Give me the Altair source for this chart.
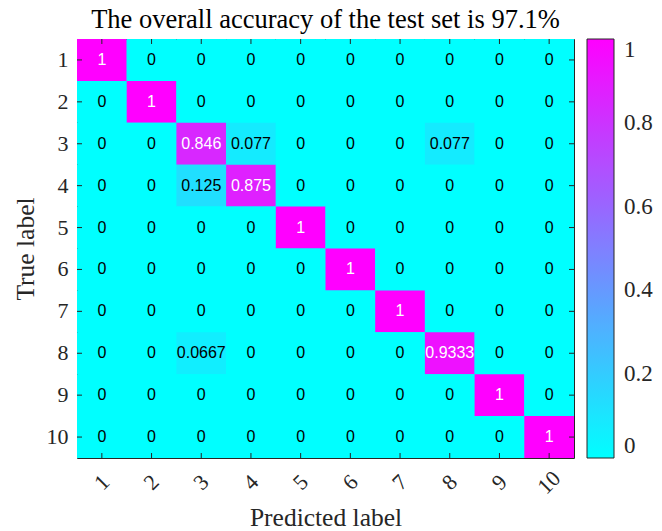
import altair as alt
import pandas as pd

# Class labels shared by both axes
classes = ["1", "2", "3", "4", "5", "6", "7", "8", "9", "10"]

# Row-normalised confusion matrix: rows = true label, columns = predicted label
row_1 = [1, 0, 0, 0, 0, 0, 0, 0, 0, 0]
row_2 = [0, 1, 0, 0, 0, 0, 0, 0, 0, 0]
row_3 = [0, 0, 0.846, 0.077, 0, 0, 0, 0.077, 0, 0]
row_4 = [0, 0, 0.125, 0.875, 0, 0, 0, 0, 0, 0]
row_5 = [0, 0, 0, 0, 1, 0, 0, 0, 0, 0]
row_6 = [0, 0, 0, 0, 0, 1, 0, 0, 0, 0]
row_7 = [0, 0, 0, 0, 0, 0, 1, 0, 0, 0]
row_8 = [0, 0, 0.0667, 0, 0, 0, 0, 0.9333, 0, 0]
row_9 = [0, 0, 0, 0, 0, 0, 0, 0, 1, 0]
row_10 = [0, 0, 0, 0, 0, 0, 0, 0, 0, 1]
matrix = [row_1, row_2, row_3, row_4, row_5, row_6, row_7, row_8, row_9, row_10]

accuracy = "97.1%"
colorbar_ticks = [0, 0.2, 0.4, 0.6, 0.8, 1]

records = []
for i, t in enumerate(classes):
    for j, p in enumerate(classes):
        records.append({"true": t, "pred": p, "value": matrix[i][j]})
df = pd.DataFrame(records)
ticks_df = pd.DataFrame({"label": classes})

W, H = 497, 419
SERIF = "Liberation Serif"
SANS = "Liberation Sans"
TICK = 5
CYAN, MAGENTA = "#00ffff", "#ff00ff"

band = alt.Scale(domain=classes, paddingInner=0, paddingOuter=0)
cool = alt.Scale(domain=[0, 1], range=[CYAN, MAGENTA], interpolate="rgb")
x_enc = alt.X("pred:O", scale=band, title="Predicted label")
y_enc = alt.Y("true:O", scale=band, title="True label")

cells = alt.Chart(df).mark_rect().encode(
    x=x_enc,
    y=y_enc,
    color=alt.Color(
        "value:Q",
        scale=cool,
        legend=alt.Legend(
            title=None,
            values=colorbar_ticks,
            format=".1~f",
            gradientLength=H,
            gradientThickness=27,
            gradientStrokeColor="#262626",
            gradientStrokeWidth=1,
            labelFont=SERIF,
            labelFontSize=23,
            labelColor="#262626",
            labelOffset=10,
            labelBaseline="middle",
            offset=13,
            padding=0,
        ),
    ),
)

labels = alt.Chart(df).mark_text(font=SANS, fontSize=16).encode(
    x=alt.X("pred:O", scale=band),
    y=alt.Y("true:O", scale=band),
    text=alt.Text("value:Q", format=".4~g"),
    color=alt.condition(alt.datum.value > 0.5, alt.value("white"), alt.value("black")),
)

# Inward tick marks on all four sides of the box
tick_style = dict(color="#262626", strokeWidth=1)
bottom_ticks = alt.Chart(ticks_df).mark_rule(**tick_style).encode(
    x=alt.X("label:O", scale=band), y=alt.value(H), y2=alt.value(H - TICK))
top_ticks = alt.Chart(ticks_df).mark_rule(**tick_style).encode(
    x=alt.X("label:O", scale=band), y=alt.value(0), y2=alt.value(TICK))
left_ticks = alt.Chart(ticks_df).mark_rule(**tick_style).encode(
    y=alt.Y("label:O", scale=band), x=alt.value(0), x2=alt.value(TICK))
right_ticks = alt.Chart(ticks_df).mark_rule(**tick_style).encode(
    y=alt.Y("label:O", scale=band), x=alt.value(W), x2=alt.value(W - TICK))

chart = (
    alt.layer(cells, labels, bottom_ticks, top_ticks, left_ticks, right_ticks)
    .properties(
        width=W,
        height=H,
        background="white",
        title=alt.TitleParams(
            f"The overall accuracy of the test set is {accuracy}",
            font=SERIF, fontSize=26.5, fontWeight="normal", color="black",
            anchor="middle", frame="group", offset=5,
        ),
        autosize=alt.AutoSizeParams(type="none"),
        padding={"left": 77, "top": 39, "right": 88, "bottom": 73},
    )
    # cyan plot background keeps seams between adjacent cells from showing
    .configure_view(stroke="#262626", strokeWidth=1, fill=CYAN)
    .configure_axis(
        domain=False,
        ticks=False,
        grid=False,
        labelFont=SERIF,
        labelFontSize=22,
        labelColor="#262626",
        titleFont=SERIF,
        titleFontSize=25.5,
        titleFontWeight="normal",
        titleColor="#262626",
    )
    .configure_axisX(
        labelAngle=315,
        labelAlign="center",
        labelBaseline="middle",
        labelPadding=24,
        titleY=67,
        titleBaseline="alphabetic",
    )
    .configure_axisY(
        labelAngle=0,
        labelPadding=9,
        titleX=-44,
        titleBaseline="alphabetic",
    )
)

chart.save("out.html", embed_options={"renderer": "svg", "actions": False})
